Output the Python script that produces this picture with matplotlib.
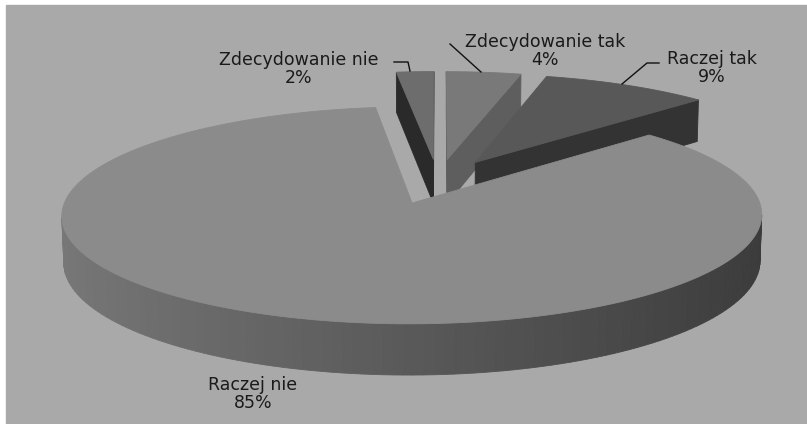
import numpy as np
import matplotlib.pyplot as plt
from matplotlib.patches import Polygon, Rectangle

labels = ["Zdecydowanie tak", "Raczej tak", "Raczej nie", "Zdecydowanie nie"]
shares = [4, 9, 85, 2]
top_gray = ["#797979", "#585858", "#8b8b8b", "#6d6d6d"]
cut_gray = ["#5e5e5e", "#333333", "#4a4a4a", "#2a2a2a"]

# label anchors (centre of the two text lines) and leader lines
label_pos = [(545, 51), (712, 68), (253, 394), (299, 69)]
leaders = [
    [(450, 44), (481, 72)],
    [(659, 63), (647, 63), (622, 84)],
    None,
    [(394, 62), (408, 62), (410, 71)],
]

# 3d view
K = 338
ALPHA = np.radians(18.4)
DIST = 8.6
CX, CY = 438, 226.5
THICK = 0.14
EXPLODE = 0.22

cam = np.array([0.0, -DIST * np.cos(ALPHA), DIST * np.sin(ALPHA)])


def project(p):
    x, y, z = p[:, 0], p[:, 1], p[:, 2]
    sy = y * np.sin(ALPHA) + z * np.cos(ALPHA)
    dep = y * np.cos(ALPHA) - z * np.sin(ALPHA)
    w = 1.0 / (1.0 + dep / DIST)
    return np.column_stack([CX + K * x * w, CY - K * sy * w])


def visible(pts, normal):
    return np.dot(normal, cam - pts.mean(axis=0)) > 0


fig = plt.figure(figsize=(8.07, 4.24), dpi=100)
ax = fig.add_axes([0, 0, 1, 1])
ax.set_xlim(0, 807)
ax.set_ylim(424, 0)
ax.axis("off")
ax.add_patch(Rectangle((6, 5), 801, 419, color="#a9a9a9", zorder=0))


def face(pts, color):
    ax.add_patch(Polygon(project(pts), closed=True, facecolor=color,
                         edgecolor=color, lw=0.6, zorder=1))


bounds = np.concatenate([[0], np.cumsum(shares)]) / sum(shares) * 2 * np.pi
mids = (bounds[:-1] + bounds[1:]) / 2

# farthest slices first
for i in sorted(range(len(shares)), key=lambda j: -np.cos(mids[j])):
    t1, t2 = bounds[i], bounds[i + 1]
    ox, oy = EXPLODE * np.sin(mids[i]), EXPLODE * np.cos(mids[i])
    th = np.linspace(t1, t2, max(3, int(np.degrees(t2 - t1) / 1.5)))
    ax_ = ox + np.sin(th)
    ay_ = oy + np.cos(th)

    def rim(z):
        return np.column_stack([ax_, ay_, np.full_like(th, z)])

    top, bot = rim(THICK), rim(0.0)
    apex_t = np.array([[ox, oy, THICK]])
    apex_b = np.array([[ox, oy, 0.0]])

    # outer wall, shaded darker towards the right
    for k in range(len(th) - 1):
        quad = np.vstack([top[k], top[k + 1], bot[k + 1], bot[k]])
        m = (th[k] + th[k + 1]) / 2
        n = np.array([np.sin(m), np.cos(m), 0.0])
        if visible(quad, n):
            g = 0.35 - 0.12 * np.sin(m)
            face(quad, (g, g, g))

    # cut faces
    q1 = np.vstack([apex_t, top[:1], bot[:1], apex_b])
    n1 = np.array([-np.cos(t1), np.sin(t1), 0.0])
    q2 = np.vstack([apex_t, top[-1:], bot[-1:], apex_b])
    n2 = np.array([np.cos(t2), -np.sin(t2), 0.0])
    for q, n in ((q1, n1), (q2, n2)):
        if visible(q, n):
            face(q, cut_gray[i])

    face(np.vstack([apex_t, top]), top_gray[i])

for i, name in enumerate(labels):
    x, y = label_pos[i]
    ax.text(x, y, f"{name}\n{shares[i]}%", ha="center", va="center",
            fontsize=12.5, color="#1a1a1a", linespacing=1.0, zorder=3)
    if leaders[i]:
        lx, ly = zip(*leaders[i])
        ax.plot(lx, ly, color="#111111", lw=1, zorder=3)

fig.savefig("out.png", dpi=100, facecolor="white")
